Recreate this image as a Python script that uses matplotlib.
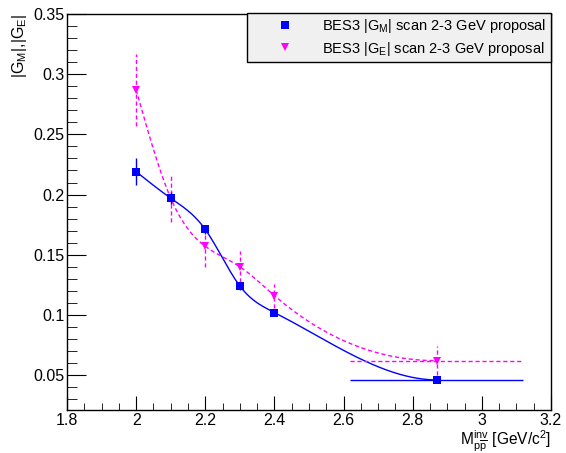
import numpy as np
import matplotlib
matplotlib.use("Agg")
import matplotlib.pyplot as plt
from matplotlib.ticker import MultipleLocator
from matplotlib.lines import Line2D

# Data
x_pts = [2.0, 2.1, 2.2, 2.3, 2.4, 2.87]
xerr_pts = [0.0, 0.0, 0.0, 0.0, 0.0, 0.25]
gm_vals = [0.219, 0.197, 0.171, 0.124, 0.102, 0.046]
gm_errs = [0.011, 0.005, 0.004, 0.003, 0.002, 0.0015]
ge_vals = [0.287, 0.197, 0.157, 0.140, 0.116, 0.062]
ge_errs = [0.030, 0.020, 0.017, 0.013, 0.010, 0.012]
labels = ["BES3 |G$_{\\mathregular{M}}$| scan 2-3 GeV proposal",
          "BES3 |G$_{\\mathregular{E}}$| scan 2-3 GeV proposal"]

plt.rcParams['font.family'] = ['Liberation Sans', 'DejaVu Sans']
plt.rcParams['mathtext.fontset'] = 'custom'
plt.rcParams['mathtext.rm'] = 'Liberation Sans'
plt.rcParams['mathtext.it'] = 'Liberation Sans'


def smooth_curve(x, y, n=300, right_slope=0.0):
    """Cubic spline: natural at left end, clamped slope at right end."""
    x = np.asarray(x, float); y = np.asarray(y, float)
    m = len(x)
    h = np.diff(x)
    A = np.zeros((m, m)); b = np.zeros(m)
    A[0, 0] = 1
    for i in range(1, m - 1):
        A[i, i - 1] = h[i - 1]
        A[i, i] = 2 * (h[i - 1] + h[i])
        A[i, i + 1] = h[i]
        b[i] = 3 * ((y[i + 1] - y[i]) / h[i] - (y[i] - y[i - 1]) / h[i - 1])
    A[-1, -2] = h[-1]
    A[-1, -1] = 2 * h[-1]
    b[-1] = 3 * (right_slope - (y[-1] - y[-2]) / h[-1])
    c = np.linalg.solve(A, b)
    xs = np.linspace(x[0], x[-1], n)
    ys = np.empty_like(xs)
    for k, xv in enumerate(xs):
        i = min(np.searchsorted(x, xv, side='right') - 1, m - 2)
        bi = (y[i + 1] - y[i]) / h[i] - h[i] * (2 * c[i] + c[i + 1]) / 3
        di = (c[i + 1] - c[i]) / (3 * h[i])
        dx = xv - x[i]
        ys[k] = y[i] + bi * dx + c[i] * dx ** 2 + di * dx ** 3
    return xs, ys


fig = plt.figure(figsize=(5.66, 4.53), dpi=100)
ax = fig.add_axes([67 / 566, 43 / 453, 484 / 566, 396 / 453])

blue = '#0000ff'
mag = '#ff00ff'

xs, ys = smooth_curve(x_pts, gm_vals)
ax.plot(xs, ys, color=blue, lw=1.0, zorder=2)
xs2, ys2 = smooth_curve(x_pts, ge_vals)
ax.plot(xs2, ys2, color=mag, lw=1.0, ls=(0, (3, 2)), zorder=2)

ax.errorbar(x_pts, gm_vals, yerr=gm_errs, xerr=xerr_pts, fmt='s', color=blue,
            ms=5.5, mew=0, elinewidth=1.0, capsize=2, capthick=1.0, zorder=4)
eb = ax.errorbar(x_pts, ge_vals, yerr=ge_errs, xerr=xerr_pts, fmt='v', color=mag,
                 ms=5.5, mew=0, elinewidth=1.0, capsize=2, capthick=1.0, zorder=3)
for lc in eb[2]:
    lc.set_linestyle((0, (3, 2)))

ax.set_xlim(1.8, 3.2)
ax.set_ylim(0.021, 0.35)
ax.xaxis.set_major_locator(MultipleLocator(0.2))
ax.xaxis.set_minor_locator(MultipleLocator(0.05))
ax.yaxis.set_major_locator(MultipleLocator(0.05))
ax.yaxis.set_minor_locator(MultipleLocator(0.01))
ax.xaxis.set_major_formatter(plt.FuncFormatter(lambda v, p: f"{v:g}"))
ax.yaxis.set_major_formatter(plt.FuncFormatter(lambda v, p: f"{v:g}"))
ax.tick_params(which='both', direction='in', top=False, right=False, labelsize=11.5)
ax.tick_params(axis='x', which='major', length=10, pad=2.5)
ax.tick_params(axis='x', which='minor', length=5)
ax.tick_params(axis='y', which='major', length=14, pad=2)
ax.tick_params(axis='y', which='minor', length=7)
for s in ax.spines.values():
    s.set_linewidth(1.0)

ax.set_xlabel("M$_{\\mathregular{p\\overline{p}}}^{\\mathregular{inv}}$ [GeV/c$^{\\mathregular{2}}$]",
              fontsize=11.2, ha='right', va='top')
ax.xaxis.set_label_coords(1.0, -0.047)
ax.set_ylabel("|G$_{\\mathregular{M}}$|,|G$_{\\mathregular{E}}$|", fontsize=11.5,
              loc='top', labelpad=3)

handles = [Line2D([], [], ls='none', marker='s', color=blue, ms=5.5, mew=0),
           Line2D([], [], ls='none', marker='v', color=mag, ms=5.5, mew=0)]
leg = ax.legend(handles, labels, loc='upper right', bbox_to_anchor=(1.0, 1.003),
                fontsize=10.5, frameon=True, fancybox=False, framealpha=1,
                edgecolor='black', facecolor='#f0f0f0', borderpad=0.3,
                handletextpad=0.2, handlelength=4.7, labelspacing=0.3,
                borderaxespad=0)
leg.get_frame().set_linewidth(1.0)

fig.savefig("out.png", dpi=100)
